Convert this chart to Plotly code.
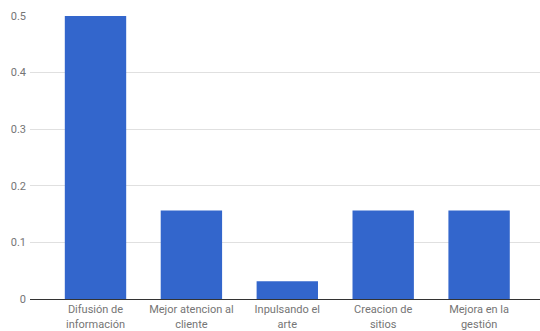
import plotly.graph_objects as go

categories = ["Difusión de<br>información", "Mejor atencion al<br>cliente", "Inpulsando el<br>arte", "Creacion de<br>sitios", "Mejora en la<br>gestión"]
values = [0.5, 0.15625, 0.03125, 0.15625, 0.15625]
y_ticks = [0, 0.1, 0.2, 0.3, 0.4, 0.5]
y_tick_labels = ["0", "0.1", "0.2", "0.3", "0.4", "0.5"]

xs = list(range(len(categories)))
fig = go.Figure(go.Bar(
    x=xs, y=values,
    marker=dict(color="#3366cc", line=dict(width=0)),
    width=0.64,
))
fig.update_layout(
    width=540, height=331,
    margin=dict(l=30, r=0, t=16, b=32),
    paper_bgcolor="white", plot_bgcolor="white",
    font=dict(family="Roboto, Arial, sans-serif", size=11, color="#757575"),
    showlegend=False,
    xaxis=dict(
        tickmode="array", tickvals=xs, ticktext=categories,
        range=[-0.683, 4.635], showgrid=False, showline=True, linecolor="#333333",
        linewidth=1, ticks="", zeroline=False, ticklabelstandoff=0,
        tickfont=dict(size=11, color="#757575"),
    ),
    yaxis=dict(
        range=[0, 0.5], tickmode="array", tickvals=y_ticks, ticktext=y_tick_labels,
        showgrid=True, gridcolor="#e0e0e0", gridwidth=1, zeroline=False,
        ticks="", ticklabelstandoff=3, tickfont=dict(size=11, color="#757575"),
    ),
)
fig.write_html("out.html")
